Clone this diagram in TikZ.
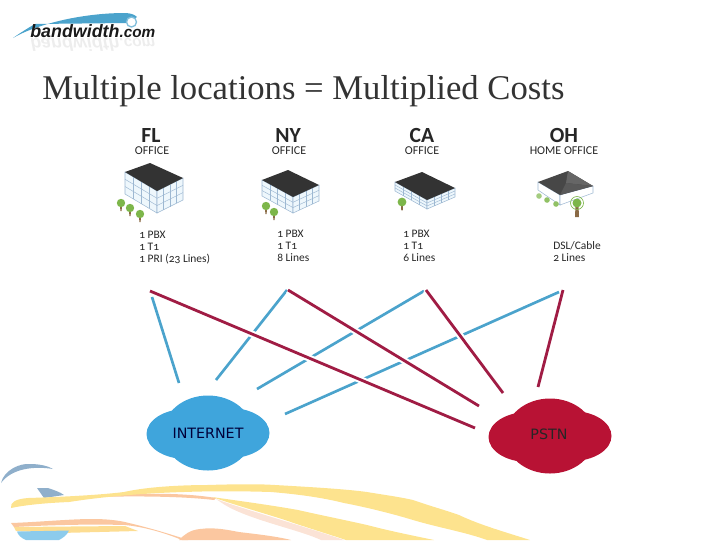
\documentclass[tikz,border=0pt]{standalone}
\usepackage{fontspec}
\setmainfont{Liberation Serif}
\newfontfamily\lblfont[Numbers=OldStyle]{Carlito}
\newfontfamily\logofont{Liberation Sans}
\newfontfamily\cloudfont{DejaVu Sans}
\usetikzlibrary{calc}
\definecolor{netblue}{HTML}{3FA5DC}
\definecolor{linkblue}{HTML}{4BA3CC}
\definecolor{linkred}{HTML}{A01C44}
\definecolor{pstnred}{HTML}{B81234}
\definecolor{roofdark}{HTML}{333333}
\definecolor{wallline}{HTML}{9DB8D2}
\definecolor{wallfill}{HTML}{EEF7FC}
\definecolor{treegreen}{HTML}{7DB64A}
\definecolor{trunk}{HTML}{8A6A45}
\definecolor{swyellow}{HTML}{FDE38E}
\definecolor{swpeach}{HTML}{FBE3D6}
\definecolor{sworange}{HTML}{FBC7A0}
\definecolor{swgrey}{HTML}{8FAFCB}
\definecolor{swsky}{HTML}{8CCBEC}
\tikzset{
 site/.style={font=\lblfont\fontsize{16.2}{16.2}\selectfont\bfseries,text=black!85,inner sep=0},
 kind/.style={font=\lblfont\fontsize{9}{9}\selectfont,text=black!85,inner sep=0},
 info/.style={font=\lblfont\fontsize{8.6}{9}\selectfont,text=black!85,inner sep=0,anchor=north west,align=left},
 cloudlabel/.style={font=\cloudfont\fontsize{10.7}{11}\selectfont,inner sep=0},
 bluelink/.style={draw=linkblue,line width=2pt},
 redlink/.style={draw=linkred,line width=2.1pt},
 halo/.style={draw=white,line width=5.2pt},
 wall/.style={draw=wallline,fill=wallfill,line width=.4pt},
 brick/.style={draw=wallline,line width=.35pt},
}
\newcommand{\bldg}[9]{%
 \coordinate (L) at (#1,#2); \coordinate (T) at (#3,#4);
 \coordinate (R) at (#5,#6); \coordinate (B) at (#7,#8);
 \path[wall] (L) -- (B) -- ($(B)+(0,#9)$) -- ($(L)+(0,#9)$) -- cycle;
 \path[wall] (B) -- (R) -- ($(R)+(0,#9)$) -- ($(B)+(0,#9)$) -- cycle;
 \foreach \f in {.25,.5,.75}{
  \draw[brick] ($(L)!\f!(B)$) -- ++(0,#9);
  \draw[brick] ($(B)!\f!(R)$) -- ++(0,#9);
 }
 \foreach \f in {.33,.66}{
  \draw[brick] ($(L)+(0,\f*#9)$) -- ($(B)+(0,\f*#9)$) -- ($(R)+(0,\f*#9)$);
 }
 \fill[roofdark] (L) -- (T) -- (R) -- (B) -- cycle;
}
\newcommand{\tree}[3]{% x y scale
 \fill[trunk] (#1-.9*#3,#2) -- (#1+.9*#3,#2) -- (#1+.7*#3,#2+8*#3) -- (#1-.7*#3,#2+8*#3) -- cycle;
 \fill[treegreen] (#1,#2) circle[radius=4.2*#3];
}
\newcommand{\cloudshape}[3]{% x y colour
 \fill[#3] (#1,#2) ellipse[x radius=45,y radius=37.5];
 \fill[#3] (#1-22,#2+1) ellipse[x radius=39.5,y radius=25];
 \fill[#3] (#1+22,#2) ellipse[x radius=39.5,y radius=25];
}
\begin{document}
\begin{tikzpicture}[x=0.75pt,y=-0.75pt]
\useasboundingbox (0,0) rectangle (720,540);
\clip (0,0) rectangle (720,540);
% bottom swooshes
\fill[swgrey] (1,483) .. controls (4,470) and (20,463) .. (30,464) .. controls (40,464) and (48,466) .. (53,469) .. controls (35,466) and (12,468) .. (1,483) -- cycle;
\fill[swgrey] (37,488) -- (48,488) .. controls (54,490) and (60,492) .. (64,495) -- (44,498) -- cycle;
% pale peach under second band
\fill[swpeach] (216,499) .. controls (240,508) and (300,525) .. (344,540) -- (321,540) .. controls (300,530) and (250,520) .. (225,505) -- cycle;
% thin orange strip
\fill[sworange] (96,497) .. controls (130,493) and (180,492) .. (216,498) -- (214,500) .. controls (180,496) and (130,496) .. (96,497) -- cycle;
% first yellow band
\fill[swyellow] (11,508) .. controls (10,502) and (16,499) .. (28,498) .. controls (60,497) and (100,495) .. (124,492)
 .. controls (150,486) and (190,485) .. (207,485) .. controls (240,484) and (260,484) .. (275,485)
 .. controls (310,487) and (345,489) .. (367,492) .. controls (385,495) and (400,497) .. (413,500)
 .. controls (430,506) and (445,510) .. (459,515) .. controls (480,525) and (505,532) .. (530,540)
 -- (487,540) .. controls (465,532) and (440,528) .. (413,520) .. controls (390,513) and (365,507) .. (344,503)
 .. controls (320,497) and (295,494) .. (271,492) .. controls (240,491) and (210,491) .. (184,492)
 .. controls (145,493) and (100,497) .. (69,502) .. controls (45,503) and (25,505) .. (11,508) -- cycle;
% second yellow band
\fill[swyellow] (212,497) .. controls (240,501) and (270,505) .. (298,510) .. controls (320,515) and (345,520) .. (367,525)
 .. controls (390,531) and (410,535) .. (434,540) -- (346,540) .. controls (325,533) and (305,527) .. (285,520)
 .. controls (260,512) and (235,505) .. (212,497) -- cycle;
% lower left stripes
\fill[sworange] (11,523) .. controls (40,522) and (70,519) .. (92,519) .. controls (105,519) and (118,520) .. (129,523)
 .. controls (150,528) and (170,534) .. (188,540) -- (182,540) .. controls (165,533) and (145,527) .. (125,525)
 .. controls (90,524) and (50,525) .. (14,527) -- cycle;
\fill[swyellow!80!sworange] (14,527) -- (125,526) -- (138,531) -- (60,533) -- (16,531) -- cycle;
\fill[swsky] (17,531.5) -- (69,530.5) .. controls (67,535) and (63,538) .. (59,540) -- (26,540) .. controls (21,538) and (18,535) .. (17,531.5) -- cycle;
\fill[sworange] (179,540) .. controls (185,534) and (190,530) .. (200,529) .. controls (215,527) and (228,530) .. (239,532) .. controls (255,534) and (275,536) .. (291,540) -- cycle;
% logo
\fill[linkblue] (13,38) .. controls (35,25) and (80,13) .. (125,13) .. controls (131,13) and (135,15) .. (137,17)
 -- (128,23) -- (35,24) .. controls (28,28) and (20,33) .. (13,38) -- cycle;
\draw[linkblue!70,line width=1pt,fill=white] (131.5,22) circle[radius=5];
\node[font=\logofont\fontsize{13.4}{13}\selectfont\itshape\bfseries,inner sep=0,anchor=base west,text=black!90] (logo) at (30,37) {bandwidth\fontsize{11.5}{12}\selectfont.com};
\node[font=\logofont\fontsize{13.4}{13}\selectfont\itshape\bfseries,inner sep=0,anchor=base west,text=black!7,yscale=-1] (logoshade) at (30,38.5) {bandwidth\fontsize{11.5}{12}\selectfont.com};
% title
\node[font=\fontsize{26}{28}\selectfont,inner sep=0,anchor=base west,text=black!80] (title) at (42,99) {Multiple locations = Multiplied Costs};
% site labels
\node[site] (fl) at (151,135) {FL};
\node[site] (ny) at (288,135) {NY};
\node[site] (ca) at (422,135) {CA};
\node[site] (oh) at (564,135) {OH};
\node[kind] (flk) at (152,151) {OFFICE};
\node[kind] (nyk) at (289,151) {OFFICE};
\node[kind] (cak) at (422,151) {OFFICE};
\node[kind] (ohk) at (564,151) {HOME OFFICE};
% buildings
\bldg{125}{172}{150}{163}{183}{178}{157}{191}{22}
\bldg{262}{180}{288}{170}{319}{185}{293}{197}{16}
\bldg{395}{182}{422}{172}{455}{188}{427}{200}{9}
% home office
\coordinate (L) at (538,182); \coordinate (T) at (568,171); \coordinate (R) at (593,186); \coordinate (B) at (560,195);
\path[wall,fill=white] (L) -- (B) -- ++(0,10) -- ($(L)+(0,8)$) -- cycle;
\path[wall,fill=white] (B) -- (R) -- ++(0,7) -- ($(B)+(0,10)$) -- cycle;
\fill[black!72] (L) -- (T) -- (R) -- (B) -- cycle;
\fill[black!60] (T) -- (R) -- (566,183) -- cycle;
\fill[black!65] (566,183) -- (B) -- (R) -- cycle;
% trees
\tree{121}{203}{1}\tree{130}{208}{1}\tree{140}{214}{1}
\tree{266}{206}{1}\tree{274}{212}{1}
\tree{402}{202}{1.05}
\fill[treegreen!70] (539,196) circle[radius=2.8];
\fill[treegreen!85] (547,200) circle[radius=2.8];
\fill[treegreen!85] (556,204) circle[radius=2.8];
\fill[trunk] (575.5,205) -- (578.5,205) -- (579,217) -- (575,217) -- cycle;
\draw[treegreen,line width=.5pt] (577,203) circle[radius=6.5];
\fill[treegreen] (577,203) circle[radius=4.5];
% info
\node[info] (fli) at (139,231) {1 PBX\\1 T1\\1 PRI (23 Lines)};
\node[info] (nyi) at (277,229.5) {1 PBX\\1 T1\\8 Lines};
\node[info] (cai) at (403,229.5) {1 PBX\\1 T1\\6 Lines};
\node[info] (ohi) at (553,241) {DSL/Cable\\2 Lines};
% clouds
\cloudshape{208}{433}{netblue}
\cloudshape{550}{436}{pstnred}
\node[cloudlabel,text=black!10!blue!25!black] (internet) at (208,433) {INTERNET};
\node[cloudlabel,text=black!85] (pstn) at (549,434) {PSTN};
% connector ends
\coordinate (bfa) at (152,297); \coordinate (bfb) at (179,383);
\coordinate (bna) at (287,290); \coordinate (bnb) at (216,380);
\coordinate (bca) at (424,291); \coordinate (bcb) at (257,389);
\coordinate (boa) at (559,292); \coordinate (bob) at (285,414);
\coordinate (rfa) at (150,291); \coordinate (rfb) at (475,428);
\coordinate (rna) at (288,290); \coordinate (rnb) at (479,406);
\coordinate (rca) at (426,290); \coordinate (rcb) at (503,393);
\coordinate (roa) at (563,290); \coordinate (rob) at (538,387);
\draw[bluelink] (bfa) -- (bfb);
\draw[bluelink] (bna) -- (bnb);
\draw[bluelink] (bca) -- (bcb);
\draw[bluelink] (boa) -- (bob);
\draw[halo] (rfa) -- (rfb);
\draw[halo] (rna) -- (rnb);
\draw[halo] (rca) -- (rcb);
\draw[redlink] (rfa) -- (rfb);
\draw[redlink] (rna) -- (rnb);
\draw[redlink] (rca) -- (rcb);
\draw[redlink] (roa) -- (rob);
\end{tikzpicture}
\end{document}
